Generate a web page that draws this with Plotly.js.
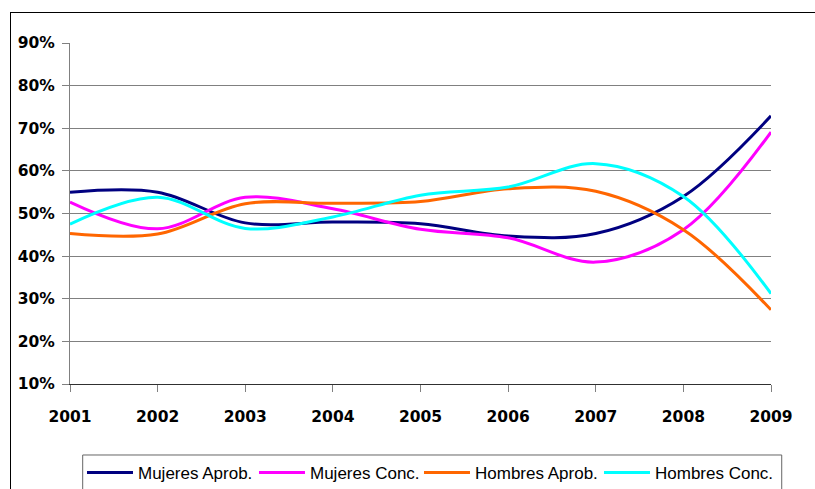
<!DOCTYPE html>
<html>
<head>
<meta charset="utf-8">
<script src="https://cdn.plot.ly/plotly-3.0.1.min.js"></script>
<style>
  html, body { margin: 0; padding: 0; background: #ffffff; }
  #chart { width: 815px; height: 489px; position: absolute; left: 0; top: 0; }
  #frame { position: absolute; left: 10px; top: 12px; width: 900px; height: 600px;
           border-left: 1px solid #000; border-top: 1px solid #000; pointer-events: none; }
</style>
</head>
<body>
<div id="chart"></div>
<div id="frame"></div>
<script>
const years = [2001, 2002, 2003, 2004, 2005, 2006, 2007, 2008, 2009];
const mujeresAprob = [55.0, 55.0, 47.8, 48.0, 47.6, 44.7, 45.3, 54.0, 72.9];
const mujeresConc  = [52.7, 46.4, 53.8, 51.1, 46.3, 44.3, 38.6, 46.2, 69.1];
const hombresAprob = [45.3, 45.2, 52.3, 52.4, 52.8, 55.8, 55.2, 46.2, 27.4];
const hombresConc  = [47.5, 53.8, 46.5, 49.2, 54.3, 56.2, 61.7, 54.0, 31.2];
const seriesNames = ["Mujeres Aprob.", "Mujeres Conc.", "Hombres Aprob.", "Hombres Conc."];
const yTicks = [10, 20, 30, 40, 50, 60, 70, 80, 90];
const yGrid = [20, 30, 40, 50, 60, 70, 80];

const colors = ["#000080", "#FF00FF", "#FF6600", "#00FFFF"];
const legendWidths = [111, 104, 119, 117];
const allSeries = [mujeresAprob, mujeresConc, hombresAprob, hombresConc];

const traces = allSeries.map((vals, i) => ({
  x: years,
  y: vals,
  name: seriesNames[i],
  type: "scatter",
  mode: "lines",
  legendwidth: legendWidths[i],
  line: { color: colors[i], width: 3, shape: "spline", smoothing: 1 },
  hoverinfo: "x+y+name"
}));

const tickFont = { family: "DejaVu Sans, Verdana, sans-serif", size: 15.5, weight: "bold", color: "#000000" };

const layout = {
  width: 815,
  height: 489,
  margin: { l: 70, r: 44, t: 43, b: 105 },
  paper_bgcolor: "rgba(0,0,0,0)",
  plot_bgcolor: "rgba(0,0,0,0)",
  showlegend: true,
  xaxis: {
    range: [2001, 2009],
    tickvals: years,
    ticktext: years.map(String),
    ticks: "outside",
    ticklen: 7,
    tickcolor: "#808080",
    tickwidth: 1,
    showline: true,
    linecolor: "#303030",
    linewidth: 1,
    showgrid: false,
    zeroline: false,
    tickfont: tickFont,
    ticklabelstandoff: 11,
    fixedrange: true
  },
  yaxis: {
    range: [10, 90],
    tickvals: yTicks,
    ticktext: yTicks.map(v => v + "%"),
    ticks: "outside",
    ticklen: 7,
    tickcolor: "#808080",
    tickwidth: 1,
    showline: true,
    linecolor: "#808080",
    linewidth: 1,
    showgrid: false,
    zeroline: false,
    tickfont: tickFont,
    ticklabelstandoff: 4,
    fixedrange: true
  },
  yaxis2: {
    overlaying: "y",
    range: [10, 90],
    tickvals: yGrid,
    showticklabels: false,
    ticks: "",
    showline: false,
    showgrid: true,
    gridcolor: "#808080",
    gridwidth: 1,
    zeroline: false,
    fixedrange: true
  },
  legend: {
    orientation: "h",
    xref: "container",
    x: 0.1006,
    xanchor: "left",
    yref: "container",
    y: 0.0695,
    yanchor: "top",
    borderwidth: 0,
    bgcolor: "rgba(0,0,0,0)",
    font: { family: "Liberation Sans, Arial, sans-serif", size: 17, color: "#000000" },
    itemwidth: 46,
    traceorder: "normal"
  },
  shapes: [
    {
      type: "rect", xref: "paper", yref: "paper",
      x0: 0.0181, x1: 1.0153, y0: -0.2082, y1: -0.40,
      line: { color: "#666666", width: 1 },
      fillcolor: "rgba(0,0,0,0)",
      layer: "above"
    }
  ]
};

// invisible trace to activate the grid-only overlay axis
traces.push({ x: [years[0]], y: [yGrid[0]], yaxis: "y2", type: "scatter", mode: "markers",
  marker: { opacity: 0 }, showlegend: false, hoverinfo: "skip" });

Plotly.newPlot("chart", traces, layout, { displayModeBar: false, staticPlot: true });
</script>
</body>
</html>
